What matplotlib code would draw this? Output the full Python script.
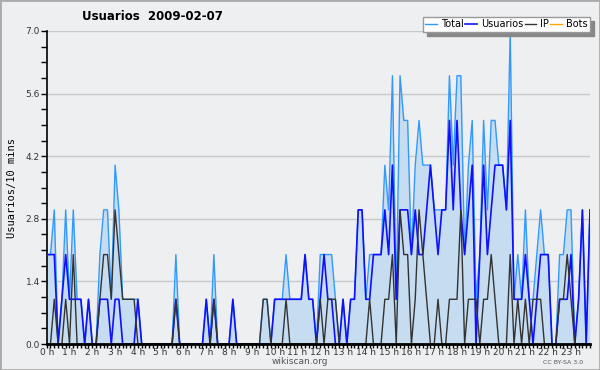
import numpy as np
import matplotlib
matplotlib.use('Agg')
import matplotlib.pyplot as plt
from matplotlib.patches import Rectangle
from matplotlib.ticker import FixedLocator, MultipleLocator

# 10-minute slots over the day (144 values each)
usuarios = [2, 2, 2, 0, 1, 2, 1, 1, 1, 1,
            0, 1, 0, 0, 1, 1, 1, 0, 1, 1,
            0, 0, 0, 0, 1, 0, 0, 0, 0, 0,
            0, 0, 0, 0, 1, 0, 0, 0, 0, 0,
            0, 0, 1, 0, 1, 0, 0, 0, 0, 1,
            0, 0, 0, 0, 0, 0, 0, 0, 0, 0,
            1, 1, 1, 1, 1, 1, 1, 1, 2, 1,
            1, 0, 1, 2, 1, 1, 0, 0, 1, 0,
            1, 1, 3, 3, 1, 1, 2, 2, 2, 3,
            2, 4, 1, 3, 3, 3, 2, 3, 2, 2,
            3, 4, 3, 2, 3, 3, 5, 3, 5, 3,
            2, 3, 4, 0, 2, 4, 2, 3, 4, 4,
            4, 3, 5, 1, 1, 1, 2, 1, 0, 1,
            2, 2, 2, 0, 0, 1, 1, 1, 2, 0,
            1, 3, 0, 3]

ip = [0, 0, 1, 0, 0, 1, 0, 2, 0, 0,
      0, 0, 0, 0, 1, 2, 2, 1, 3, 2,
      1, 1, 1, 1, 0, 0, 0, 0, 0, 0,
      0, 0, 0, 0, 1, 0, 0, 0, 0, 0,
      0, 0, 0, 0, 1, 0, 0, 0, 0, 0,
      0, 0, 0, 0, 0, 0, 0, 1, 1, 0,
      0, 0, 0, 1, 0, 0, 0, 0, 0, 0,
      0, 0, 1, 0, 1, 1, 1, 0, 0, 0,
      0, 0, 0, 0, 0, 1, 0, 0, 0, 1,
      1, 2, 0, 3, 2, 2, 0, 1, 3, 2,
      1, 0, 0, 1, 0, 0, 1, 1, 1, 3,
      0, 1, 1, 1, 0, 1, 1, 2, 1, 0,
      0, 0, 2, 0, 1, 0, 1, 0, 1, 1,
      1, 0, 0, 0, 0, 1, 1, 2, 1, 0,
      0, 0, 0, 0]

total = [2, 2, 3, 0, 1, 3, 1, 3, 1, 1,
         0, 1, 0, 0, 2, 3, 3, 1, 4, 3,
         1, 1, 1, 1, 1, 0, 0, 0, 0, 0,
         0, 0, 0, 0, 2, 0, 0, 0, 0, 0,
         0, 0, 1, 0, 2, 0, 0, 0, 0, 1,
         0, 0, 0, 0, 0, 0, 0, 1, 1, 0,
         1, 1, 1, 2, 1, 1, 1, 1, 2, 1,
         1, 0, 2, 2, 2, 2, 1, 0, 1, 0,
         1, 1, 3, 3, 1, 2, 2, 2, 2, 4,
         3, 6, 1, 6, 5, 5, 2, 4, 5, 4,
         4, 4, 3, 3, 3, 3, 6, 4, 6, 6,
         2, 4, 5, 1, 2, 5, 3, 5, 5, 4,
         4, 3, 7, 1, 2, 1, 3, 1, 1, 2,
         3, 2, 2, 0, 0, 2, 2, 3, 3, 0,
         1, 3, 0, 3]

bots = [0] * 144

hour_labels = ['%d h' % h for h in range(24)]
y_ticks = [0.0, 1.4, 2.8, 4.2, 5.6, 7.0]

bg = '#eeeff1'
x = np.arange(len(total))

fig = plt.figure(figsize=(6, 3.7), dpi=100, facecolor=bg)
ax = fig.add_axes([46.7 / 600, 26 / 370, (590 - 46.7) / 600, 313 / 370])
ax.set_facecolor(bg)

# grid
for yt in y_ticks[1:]:
    ax.axhline(yt, color='#c8c8c8', lw=1, zorder=0)

ax.fill_between(x, total, 0, color='#c6dcf0', lw=0, zorder=1)
l_bots, = ax.plot(x, bots, color='#ffa500', lw=1, zorder=2)
l_total, = ax.plot(x, total, color='#3399ff', lw=1, zorder=3)
l_usr, = ax.plot(x, usuarios, color='#1010ff', lw=1.2, zorder=4)
l_ip, = ax.plot(x, ip, color='#333333', lw=1, zorder=5)

ax.set_xlim(0, 143)
ax.set_ylim(0, 7.0)

ax.xaxis.set_major_locator(FixedLocator(np.arange(0, 144, 6)))
ax.xaxis.set_minor_locator(MultipleLocator(1))
ax.set_xticklabels(hour_labels)
ax.set_yticks(y_ticks)
ax.set_yticklabels(['%.1f' % v for v in y_ticks])
ax.yaxis.set_minor_locator(MultipleLocator(0.35))

ax.tick_params(axis='x', which='both', direction='out', length=3, width=1,
               labelsize=6.5, pad=0, colors='black', labelcolor='#333333')
ax.tick_params(axis='y', which='both', direction='out', length=4, width=1,
               labelsize=6.5, pad=1, colors='black', labelcolor='#333333')

for s in ['top', 'right']:
    ax.spines[s].set_visible(False)
ax.spines['bottom'].set_linewidth(2)
ax.spines['left'].set_linewidth(1.2)
ax.spines['bottom'].set_zorder(6)

ax.set_ylabel('Usuarios/10 mins', family='DejaVu Sans Mono', fontsize=7.5,
              labelpad=6)

fig.text(152 / 600, 1 - 16 / 370, 'Usuarios  2009-02-07', fontsize=8.5,
         fontweight='bold', ha='center', va='center')

leg = ax.legend([l_total, l_usr, l_ip, l_bots], ['Total', 'Usuarios', 'IP', 'Bots'],
                loc='upper right', bbox_to_anchor=(590 / 600, 1 - 17 / 370),
                bbox_transform=fig.transFigure, ncol=4, fontsize=7,
                frameon=True, fancybox=False,
                shadow={'color': '#888888', 'alpha': 1, 'ox': 3, 'oy': -3},
                handlelength=1.2, handletextpad=0.4, columnspacing=0.15,
                borderpad=0.25, borderaxespad=0)
leg.get_frame().set_edgecolor('#999999')
leg.get_frame().set_linewidth(1)
leg.set_zorder(10)

fig.text(300 / 600, 1 - 362 / 370, 'wikiscan.org', fontsize=6.5,
         color='#555555', ha='center', va='center')
fig.text(563 / 600, 1 - 362 / 370, 'CC BY-SA 3.0', fontsize=4.5,
         color='#555555', ha='center', va='center')

fig.patches.append(Rectangle((0, 0), 1, 1, transform=fig.transFigure,
                             fill=False, edgecolor='#aaaaaa', lw=2))

fig.savefig('out.png', dpi=100, facecolor=bg)
